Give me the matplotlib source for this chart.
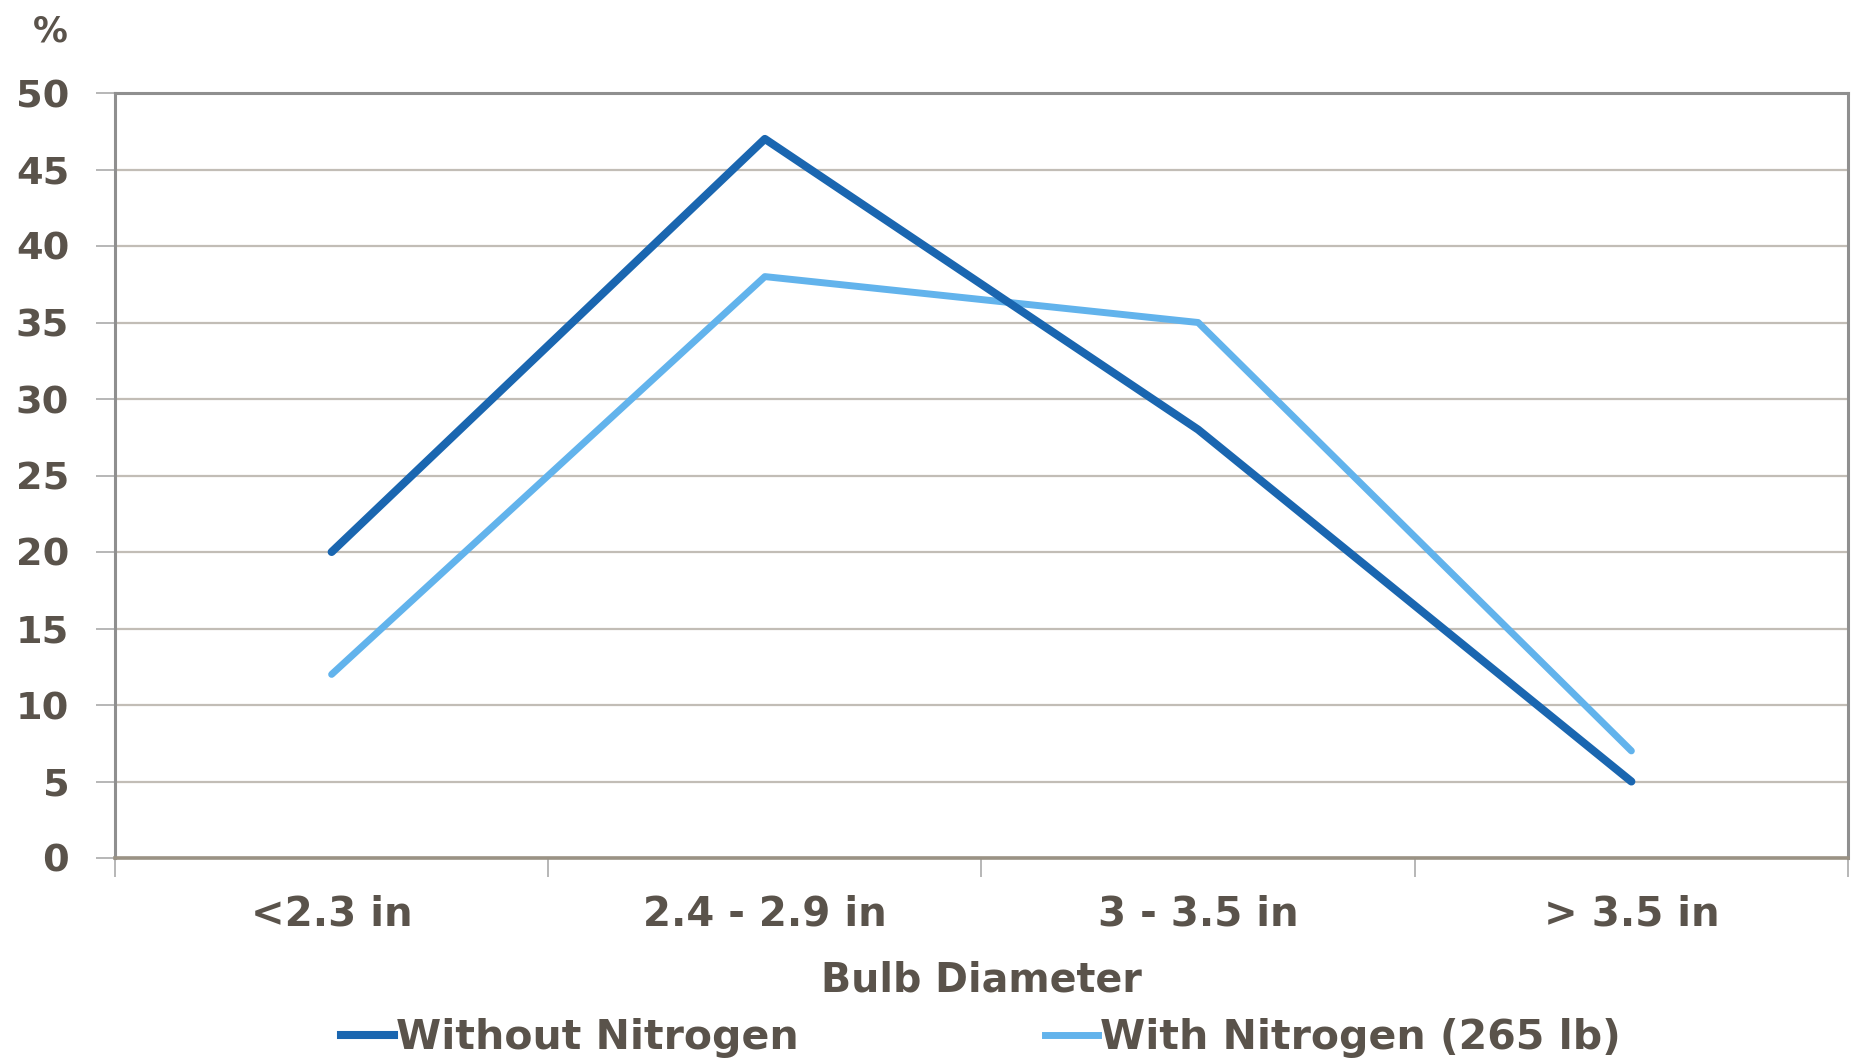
import matplotlib
matplotlib.use("Agg")
import matplotlib.pyplot as plt
from matplotlib.lines import Line2D

categories = ["<2.3 in", "2.4 - 2.9 in", "3 - 3.5 in", "> 3.5 in"]
without_n = [20, 47, 28, 5]
with_n = [12, 38, 35, 7]
series_names = ["Without Nitrogen", "With Nitrogen (265 lb)"]
yticks = [0, 5, 10, 15, 20, 25, 30, 35, 40, 45, 50]

TXT = "#5a534b"
DARK = "#1a66b0"
LIGHT = "#62b3ec"
plt.rcParams['font.family'] = ['DejaVu Sans']
plt.rcParams['font.weight'] = 'bold'

fig = plt.figure(figsize=(18.54, 10.60), dpi=100)
W, H = 1854, 1060
ax = fig.add_axes([115 / W, 1 - 858 / H, (1848 - 115) / W, (858 - 93) / H])

x = list(range(len(categories)))
ax.plot(x, without_n, color=DARK, lw=5.8, solid_capstyle='round', solid_joinstyle='round', zorder=3)
ax.plot(x, with_n, color=LIGHT, lw=5.0, solid_capstyle='round', solid_joinstyle='round', zorder=2)

ax.set_xlim(-0.5, 3.5)
ax.set_ylim(0, 50)
ax.set_yticks(yticks)
ax.set_yticklabels([str(v) for v in yticks])
ax.set_xticks(x)
ax.set_xticklabels(categories)
ax.set_xticks([-0.5, 0.5, 1.5, 2.5, 3.5], minor=True)
ax.tick_params(axis='x', which='major', length=0, pad=26, labelsize=29, labelcolor=TXT)
ax.tick_params(axis='x', which='minor', length=14, width=1.2, color="#aaaaaa", direction='out')
ax.tick_params(axis='y', length=14, width=1.2, color="#aaaaaa", pad=19, labelsize=27.5, labelcolor=TXT)
for lab in ax.get_xticklabels() + ax.get_yticklabels():
    lab.set_fontweight('bold')

ax.grid(axis='y', color="#c2bdb6", lw=1.6)
ax.set_axisbelow(True)
for side in ['left', 'top', 'right']:
    ax.spines[side].set_color("#8f8f8f")
    ax.spines[side].set_linewidth(2.2)
ax.spines['bottom'].set_color("#9a9284")
ax.spines['bottom'].set_linewidth(2.6)

fig.text(50 / W, 1 - 32 / H, "%", ha='center', va='center', fontsize=25, color=TXT, fontweight='bold')
fig.text(981 / W, 1 - 980 / H, "Bulb Diameter", ha='center', va='center', fontsize=28.5, color=TXT, fontweight='bold')

handles = [Line2D([], [], color=DARK, lw=5.8), Line2D([], [], color=LIGHT, lw=5.0)]
leg = fig.legend(handles, series_names, loc='center', bbox_to_anchor=(981 / W, 1 - 1038 / H), ncol=2,
                 frameon=False, fontsize=29.5, handlelength=1.3, handletextpad=0.05, columnspacing=6.0,
                 borderpad=0)
for t in leg.get_texts():
    t.set_color(TXT)
    t.set_fontweight('bold')

fig.savefig("out.png", dpi=100)
